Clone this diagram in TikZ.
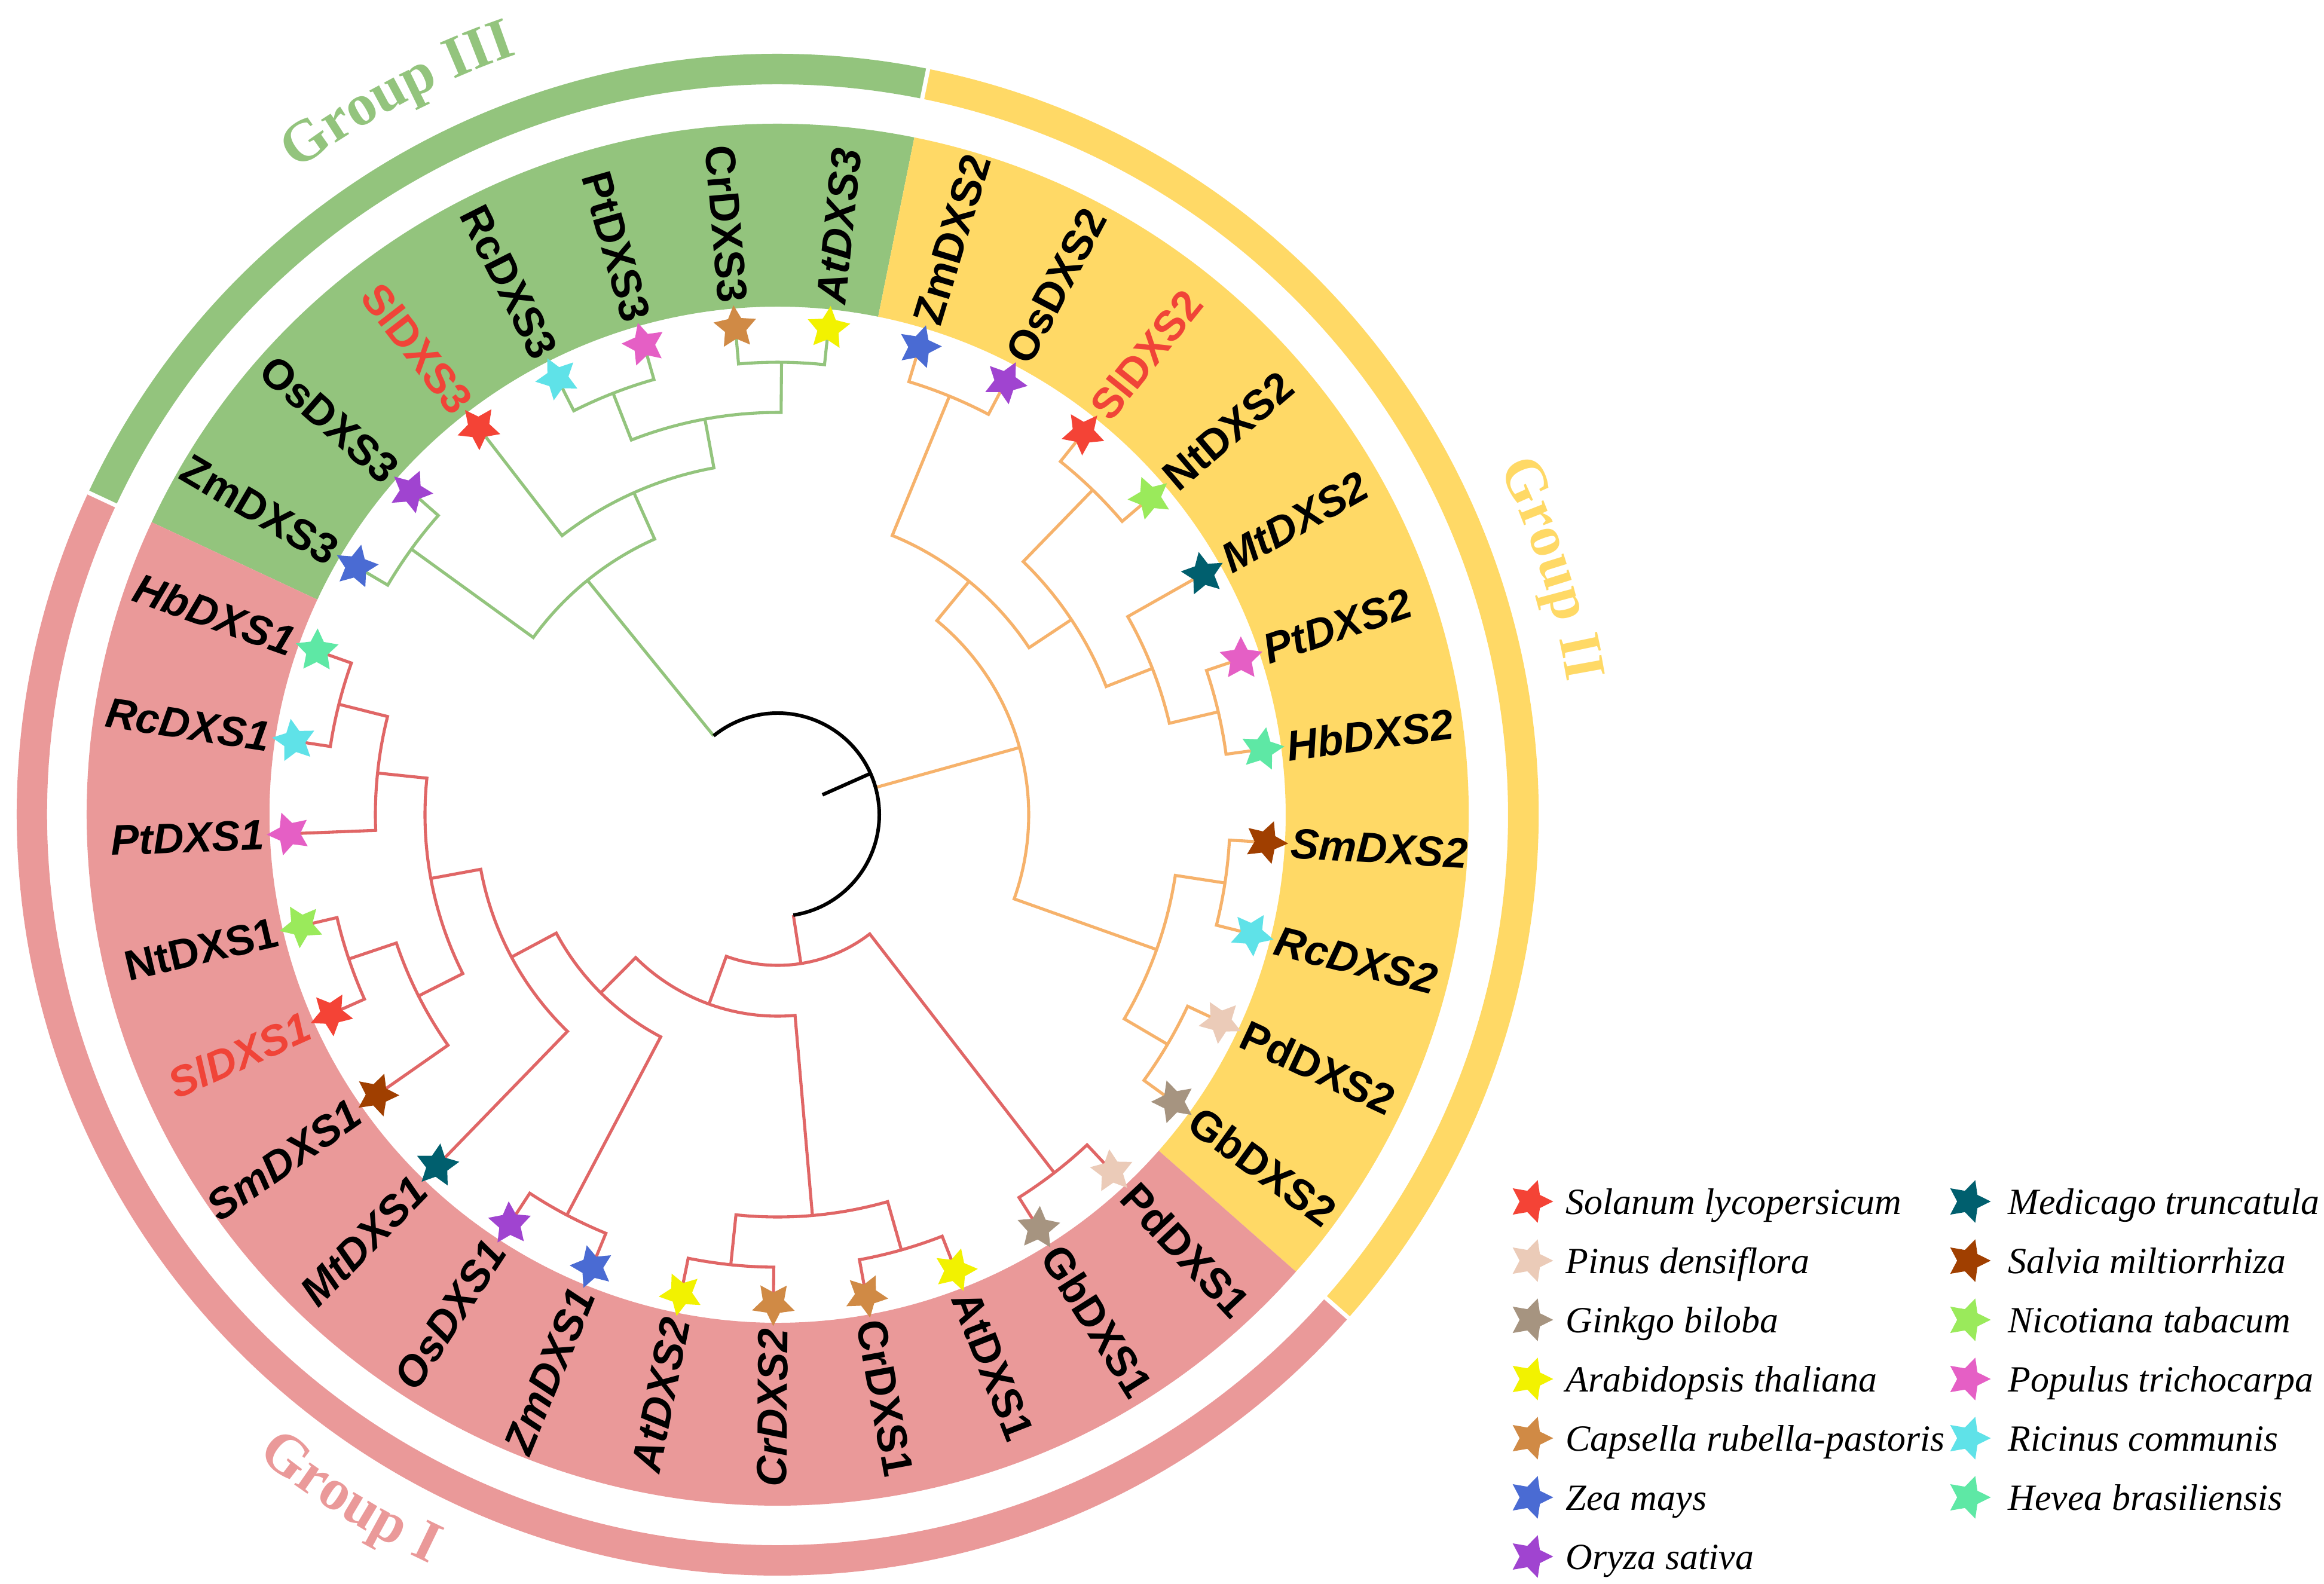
\documentclass[tikz,border=0pt]{standalone}
\usepackage{fontspec}
\setmainfont{Liberation Sans}
\newfontfamily\labfont{Liberation Sans}
\newfontfamily\serfont{Liberation Serif}
\usetikzlibrary{shapes.geometric,decorations.text}

\definecolor{bandG}{HTML}{93C47D}
\definecolor{bandY}{HTML}{FFD966}
\definecolor{bandP}{HTML}{EA9999}
\definecolor{lineG}{HTML}{93C47D}
\definecolor{lineO}{HTML}{F6B26B}
\definecolor{lineR}{HTML}{E06666}
\definecolor{labRed}{HTML}{F04438}
\definecolor{cSl}{HTML}{F44336}
\definecolor{cPd}{HTML}{EBCBB8}
\definecolor{cGb}{HTML}{A69480}
\definecolor{cAt}{HTML}{F2F200}
\definecolor{cCr}{HTML}{D08A45}
\definecolor{cZm}{HTML}{4A6BD3}
\definecolor{cOs}{HTML}{A044D0}
\definecolor{cMt}{HTML}{005F6E}
\definecolor{cSm}{HTML}{A03F00}
\definecolor{cNt}{HTML}{9AEA5B}
\definecolor{cPt}{HTML}{E55FC5}
\definecolor{cRc}{HTML}{5FE2E8}
\definecolor{cHb}{HTML}{5EE8A5}

\tikzset{
  tree/.style={line width=1.45pt},
  tG/.style={tree, draw=lineG},
  tO/.style={tree, draw=lineO},
  tR/.style={tree, draw=lineR},
  troot/.style={line width=1.7pt, draw=black},
  leafstar/.style={star, star points=5, star point ratio=2.0, minimum size=0.75cm, inner sep=0pt, draw=none},
  leaflab/.style={inner sep=0pt, outer sep=0pt},
  legtext/.style={inner sep=0pt, font=\serfont\itshape\fontsize{17.6pt}{21pt}\selectfont},
}

% annular sector: colour, a1, a2, r_in, r_out
\newcommand{\sector}[5]{\fill[#1] (#2:#4) arc[start angle=#2, end angle=#3, radius=#4] -- (#3:#5) arc[start angle=#3, end angle=#2, radius=#5] -- cycle;}
% clade: style, node radius, child1 index, child1 radius, child2 index, child2 radius
\newcommand{\clade}[6]{%
  \pgfmathsetmacro\ca{73.14-10.909*#3}%
  \pgfmathsetmacro\cb{73.14-10.909*#5}%
  \draw[#1] (\ca:#4) -- (\ca:#2) arc[start angle=\ca, end angle=\cb, radius=#2] -- (\cb:#6);}
% leaf: index, text, star colour, shape, text colour
\newcommand{\leaf}[5]{%
  \pgfmathsetmacro\lfang{73.14-10.909*#1}%
  \pgfmathtruncatemacro\isr{cos(\lfang)>0 ? 1 : 0}%
  \node[leafstar, fill=#3, rotate=\lfang-90] (star#1) at (\lfang:8.18) {};
  \ifnum\isr=1
    \node[leaflab, anchor=west, rotate=\lfang, text=#5, font={\labfont\bfseries#4\fontsize{20.2pt}{24pt}\selectfont}] (lab#1) at (\lfang:8.60) {#2};
  \else
    \node[leaflab, anchor=east, rotate=\lfang+180, text=#5, font={\labfont\bfseries#4\fontsize{20.2pt}{24pt}\selectfont}] (lab#1) at (\lfang:8.60) {#2};
  \fi}
% legend item: name, star x, y, colour, text, text offset
\newcommand{\legitem}[6]{%
  \node[leafstar, fill=#4, rotate=-90] (#1s) at (#2,#3) {};
  \node[legtext, anchor=base west] (#1t) at (#2+#6,#3-0.21) {#5};}
\newcommand{\grpstyle}{\serfont\bfseries\fontsize{28pt}{32pt}\selectfont}

\begin{document}
\begin{tikzpicture}
\useasboundingbox (-13.01,-12.86) rectangle (25.87,13.63);
\fill[white] (-13.01,-12.86) rectangle (25.87,13.63);

% coloured bands
\sector{bandG}{78.59}{154.95}{8.50}{11.56}
\sector{bandY}{-41.40}{78.59}{8.50}{11.56}
\sector{bandP}{154.95}{318.60}{8.50}{11.56}
% outer group ring
\sector{bandG}{78.59}{154.95}{12.22}{12.73}
\sector{bandY}{-41.40}{78.59}{12.22}{12.73}
\sector{bandP}{154.95}{318.60}{12.22}{12.73}
\foreach \g in {78.59,154.95,-41.40}
  \draw[white, line width=0.07cm] (\g:12.1) -- (\g:12.85);

% ---------------- Group II ----------------
\clade{tO}{7.57}{0}{8.18}{1}{8.18}
\clade{tO}{7.57}{2}{8.18}{3}{8.18}
\clade{tO}{7.57}{5}{8.18}{6}{8.18}
\clade{tO}{6.73}{4}{8.18}{5.5}{7.57}
\clade{tO}{5.90}{2.5}{7.57}{4.75}{6.73}
\clade{tO}{5.05}{0.5}{7.57}{3.625}{5.90}
\clade{tO}{7.57}{7}{8.18}{8}{8.18}
\clade{tO}{7.57}{9}{8.18}{10}{8.18}
\clade{tO}{6.73}{7.5}{7.57}{9.5}{7.57}
\clade{tO}{4.20}{2.0625}{5.05}{8.5}{6.73}
% ---------------- Group I ----------------
\clade{tR}{7.57}{11}{8.18}{12}{8.18}
\clade{tR}{7.57}{13}{8.18}{14}{8.18}
\clade{tR}{7.57}{15}{8.18}{16}{8.18}
\clade{tR}{6.73}{13.5}{7.57}{15.5}{7.57}
\clade{tR}{7.57}{17}{8.18}{18}{8.18}
\clade{tR}{7.57}{21}{8.18}{22}{8.18}
\clade{tR}{6.73}{20}{8.18}{21.5}{7.57}
\clade{tR}{7.57}{24}{8.18}{25}{8.18}
\clade{tR}{6.73}{23}{8.18}{24.5}{7.57}
\clade{tR}{5.90}{20.75}{6.73}{23.75}{6.73}
\clade{tR}{5.05}{19}{8.18}{22.25}{5.90}
\clade{tR}{4.20}{17.5}{7.57}{20.625}{5.05}
\clade{tR}{3.37}{14.5}{6.73}{19.0625}{4.20}
\clade{tR}{2.52}{11.5}{7.57}{16.78125}{3.37}
% ---------------- Group III ----------------
\clade{tG}{7.57}{26}{8.18}{27}{8.18}
\clade{tG}{7.57}{29}{8.18}{30}{8.18}
\clade{tG}{7.57}{31}{8.18}{32}{8.18}
\clade{tG}{6.73}{29.5}{7.57}{31.5}{7.57}
\clade{tG}{5.90}{28}{8.18}{30.5}{6.73}
\clade{tG}{5.05}{26.5}{7.57}{29.25}{5.90}
% ---------------- root ----------------
\pgfmathsetmacro\rGI{73.14-10.909*14.140625}
\pgfmathsetmacro\rGII{73.14-10.909*5.28125}
\pgfmathsetmacro\rGIII{360+73.14-10.909*27.875}
\pgfmathsetmacro\rRoot{73.14-10.909*4.5078125}
\coordinate (gI) at (\rGI:1.70);
\coordinate (gII) at (\rGII:1.70);
\coordinate (gIII) at (\rGIII:1.70);
\coordinate (root) at (\rRoot:1.70);
\coordinate (rootbase) at (\rRoot:0.82);
\draw[tR] (gI) -- (\rGI:2.52);
\draw[tO] (gII) -- (\rGII:4.20);
\draw[tG] (gIII) -- (\rGIII:5.05);
\draw[troot] (gI) arc[start angle=\rGI, end angle=\rGIII, radius=1.70];
\draw[troot] (rootbase) -- (root);

% ---------------- leaves ----------------
\leaf{0}{ZmDXS2}{cZm}{}{black}
\leaf{1}{OsDXS2}{cOs}{}{black}
\leaf{2}{SlDXS2}{cSl}{}{labRed}
\leaf{3}{NtDXS2}{cNt}{}{black}
\leaf{4}{MtDXS2}{cMt}{\itshape}{black}
\leaf{5}{PtDXS2}{cPt}{\itshape}{black}
\leaf{6}{HbDXS2}{cHb}{\itshape}{black}
\leaf{7}{SmDXS2}{cSm}{\itshape}{black}
\leaf{8}{RcDXS2}{cRc}{\itshape}{black}
\leaf{9}{PdDXS2}{cPd}{}{black}
\leaf{10}{GbDXS2}{cGb}{}{black}
\leaf{11}{PdDXS1}{cPd}{}{black}
\leaf{12}{GbDXS1}{cGb}{}{black}
\leaf{13}{AtDXS1}{cAt}{}{black}
\leaf{14}{CrDXS1}{cCr}{}{black}
\leaf{15}{CrDXS2}{cCr}{\itshape}{black}
\leaf{16}{AtDXS2}{cAt}{\itshape}{black}
\leaf{17}{ZmDXS1}{cZm}{\itshape}{black}
\leaf{18}{OsDXS1}{cOs}{\itshape}{black}
\leaf{19}{MtDXS1}{cMt}{\itshape}{black}
\leaf{20}{SmDXS1}{cSm}{\itshape}{black}
\leaf{21}{SlDXS1}{cSl}{\itshape}{labRed}
\leaf{22}{NtDXS1}{cNt}{}{black}
\leaf{23}{PtDXS1}{cPt}{\itshape}{black}
\leaf{24}{RcDXS1}{cRc}{\itshape}{black}
\leaf{25}{HbDXS1}{cHb}{\itshape}{black}
\leaf{26}{ZmDXS3}{cZm}{}{black}
\leaf{27}{OsDXS3}{cOs}{}{black}
\leaf{28}{SlDXS3}{cSl}{}{labRed}
\leaf{29}{RcDXS3}{cRc}{}{black}
\leaf{30}{PtDXS3}{cPt}{}{black}
\leaf{31}{CrDXS3}{cCr}{}{black}
\leaf{32}{AtDXS3}{cAt}{\itshape}{black}

% ---------------- group labels ----------------
\path[decorate, decoration={text along path, text={|\grpstyle|Group III}, text align=center, text color=bandG}]
  (137.8:13.45) arc[start angle=137.8, end angle=97.8, radius=13.45];
\path[decorate, decoration={text along path, text={|\grpstyle|Group II}, text align=center, text color=bandY}]
  (37.6:13.40) arc[start angle=37.6, end angle=-2.4, radius=13.40];
\path[decorate, decoration={text along path, text={|\grpstyle|Group I}, text align=center, text color=bandP}]
  (218:13.82) arc[start angle=218, end angle=258, radius=13.82];

% ---------------- legend ----------------
\legitem{l1}{12.60}{-6.47}{cSl}{Solanum lycopersicum}{0.58}
\legitem{l2}{12.60}{-7.46}{cPd}{Pinus densiflora}{0.58}
\legitem{l3}{12.60}{-8.45}{cGb}{Ginkgo biloba}{0.58}
\legitem{l4}{12.60}{-9.44}{cAt}{Arabidopsis thaliana}{0.58}
\legitem{l5}{12.60}{-10.43}{cCr}{Capsella rubella-pastoris}{0.58}
\legitem{l6}{12.60}{-11.42}{cZm}{Zea mays}{0.58}
\legitem{l7}{12.60}{-12.41}{cOs}{Oryza sativa}{0.58}
\legitem{l8}{19.92}{-6.47}{cMt}{Medicago truncatula}{0.66}
\legitem{l9}{19.92}{-7.46}{cSm}{Salvia miltiorrhiza}{0.66}
\legitem{l10}{19.92}{-8.45}{cNt}{Nicotiana tabacum}{0.66}
\legitem{l11}{19.92}{-9.44}{cPt}{Populus trichocarpa}{0.66}
\legitem{l12}{19.92}{-10.43}{cRc}{Ricinus communis}{0.66}
\legitem{l13}{19.92}{-11.42}{cHb}{Hevea brasiliensis}{0.66}
\end{tikzpicture}
\end{document}
